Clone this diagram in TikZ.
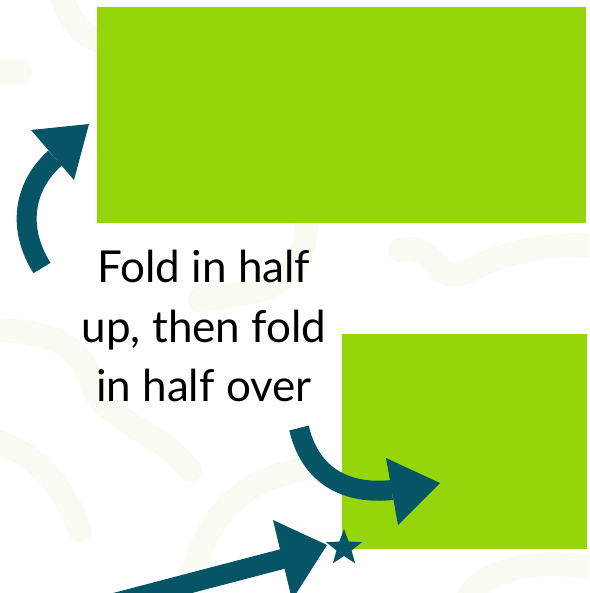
\documentclass[tikz,border=0pt]{standalone}
\usepackage{fontspec}
\setmainfont{Lato}
\usetikzlibrary{shapes.geometric}
\definecolor{leaf}{HTML}{95D60A}
\definecolor{foldteal}{HTML}{065566}
\definecolor{swirl}{HTML}{F9FBF3}

\begin{document}
\begin{tikzpicture}[x=1pt,y=-1pt,
    shaft/.style={draw=foldteal,line width=20pt},
    head/.style={fill=foldteal},
    swirlline/.style={draw=swirl,line width=24pt,line cap=round}]
  \useasboundingbox (0,0) rectangle (589,593);
  \clip (0,0) rectangle (589,593);
  % faint swirls in the background
  \draw[swirlline] (-10,72) -- (20,72);
  \draw[swirlline] (60,-10) .. controls (70,30) and (95,45) .. (110,40);
  \draw[swirlline] (-10,330) .. controls (40,330) and (80,340) .. (90,380)
    .. controls (100,420) and (160,430) .. (190,470);
  \draw[swirlline] (-10,440) .. controls (40,450) and (70,500) .. (80,530);
  \draw[swirlline] (300,150) .. controls (330,300) and (260,290) .. (200,300);
  \draw[swirlline] (400,250) .. controls (440,240) and (430,290) .. (470,270)
    .. controls (520,245) and (560,245) .. (600,245);
  \draw[swirlline] (190,593) .. controls (200,520) and (240,480) .. (300,470);
  \draw[swirlline] (470,593) .. controls (500,560) and (560,560) .. (600,570);
  % the two sheets
  \fill[leaf] (97,7) rectangle (586,223);
  \fill[leaf] (342,334) rectangle (587,549);
  % fold up
  \draw[shaft] (42,268) .. controls (18,230) and (22,188) .. (55,158);
  \fill[head] (31,130) -- (89,124) -- (74,180) -- cycle;
  % fold over
  \draw[shaft] (299,428) .. controls (310,475) and (345,495) .. (392,490);
  \fill[head] (386,458) -- (440,483) -- (398,525) -- cycle;
  % pointer to the corner
  \draw[shaft] (80,612) -- (290,557);
  \fill[head] (273,520) -- (327,545) -- (292,600) -- cycle;
  \node[star,star points=5,star point ratio=2.4,fill=foldteal,inner sep=0pt,
    minimum size=38pt] (star) at (344,548) {};
  % text
  \node[align=center,anchor=base,
    font=\fontsize{44}{59.5}\selectfont] (note) at (204,401.5)
    {Fold in half\\up, then fold\\in half over};
\end{tikzpicture}
\end{document}
